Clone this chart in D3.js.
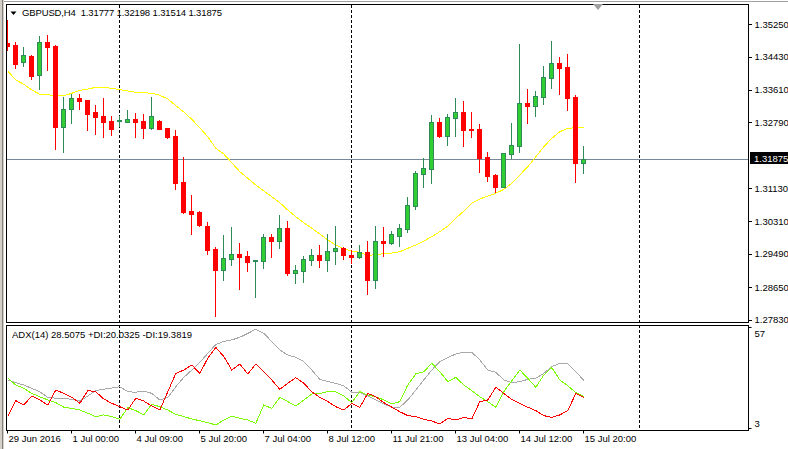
<!DOCTYPE html>
<html><head><meta charset="utf-8">
<script src="https://cdn.jsdelivr.net/npm/d3@7"></script>
<style>
body{margin:0;background:#fff;}
svg{display:block;}
text{font-family:"Liberation Sans",Arial,sans-serif;font-size:9.5px;fill:#000;white-space:pre;}
</style>
</head><body>
<svg id="c" width="788" height="449"></svg>
<script>
// ---------- data ----------
const symbolTitle = "GBPUSD,H4";
const titleOHLC = ["1.31777", "1.32198", "1.31514", "1.31875"];
const adxTitle = "ADX(14) 28.5075 +DI:20.0325 -DI:19.3819";

const openP = [1.3478,1.3473,1.34295,1.34454,1.33969,1.34798,1.34712,1.32678,1.33115,1.33399,
 1.33348,1.33047,1.32947,1.32821,1.32813,1.32803,1.32871,1.32821,1.32653,1.32828,
 1.32645,1.32452,1.31289,1.3056,1.30535,1.30183,1.29606,1.29086,1.29362,1.2948,
 1.2943,1.29297,1.29297,1.29899,1.29814,1.30126,1.2901,1.2906,1.29337,1.29447,
 1.29337,1.29548,1.29623,1.29447,1.29412,1.2953,1.28834,1.29807,1.29764,1.2994,
 1.30116,1.30693,1.31497,1.31623,1.32796,1.32452,1.32904,1.33047,1.3262,1.3262,
 1.31917,1.31464,1.31171,1.32,1.322,1.33273,1.33205,1.33431,1.33909,1.34278,
 1.34177,1.33424,1.31777];
const highP = [1.3535,1.34805,1.34687,1.34479,1.34964,1.34981,1.3473,1.33424,1.33492,1.33492,
 1.3336,1.33223,1.33399,1.32947,1.32947,1.33097,1.33022,1.32997,1.33424,1.32846,
 1.32653,1.32595,1.31924,1.3097,1.3056,1.30276,1.29648,1.29957,1.30158,1.29756,
 1.29555,1.29329,1.29982,1.29982,1.3046,1.30309,1.29196,1.29422,1.29606,1.29706,
 1.29982,1.30183,1.29648,1.2958,1.29706,1.29814,1.30183,1.30158,1.30058,1.30234,
 1.30912,1.31565,1.31884,1.32972,1.32896,1.32997,1.33399,1.33323,1.33047,1.32746,
 1.32042,1.3149,1.32017,1.32771,1.34755,1.33625,1.33575,1.34203,1.34831,1.34429,
 1.34504,1.33474,1.32198];
const lowP = [1.34604,1.3416,1.3421,1.33884,1.33632,1.3411,1.32125,1.3205,1.32778,1.3313,
 1.32602,1.32502,1.32427,1.32477,1.32695,1.32788,1.32427,1.32401,1.32628,1.3262,
 1.32401,1.3112,1.30517,1.2999,1.30183,1.29488,1.2793,1.28834,1.29211,1.28608,
 1.2906,1.28392,1.29136,1.29412,1.29638,1.2896,1.28759,1.28784,1.29211,1.29161,
 1.2906,1.29236,1.29362,1.29246,1.2938,1.28483,1.28633,1.29437,1.29739,1.29688,
 1.3004,1.30618,1.31171,1.31271,1.32419,1.32218,1.32444,1.322,1.32427,1.31547,
 1.31321,1.31045,1.3116,1.31891,1.3205,1.32771,1.32947,1.33248,1.3365,1.33507,
 1.33097,1.31296,1.31514];
const closeP = [1.34705,1.3426,1.34479,1.33959,1.34798,1.34687,1.32678,1.33122,1.33391,1.33331,
 1.33004,1.32929,1.32803,1.32628,1.32846,1.32871,1.32803,1.32653,1.32947,1.32628,
 1.32427,1.31271,1.30535,1.30492,1.30216,1.29588,1.29086,1.29372,1.2948,1.29412,
 1.29287,1.29322,1.29899,1.29814,1.30126,1.2901,1.29078,1.29347,1.29447,1.29337,
 1.29555,1.29623,1.29462,1.29412,1.29523,1.28834,1.29799,1.29764,1.29982,1.30133,
 1.30711,1.31507,1.3164,1.32796,1.32437,1.32914,1.33047,1.32602,1.32595,1.31899,
 1.31447,1.31171,1.3201,1.3221,1.33273,1.33205,1.33449,1.33926,1.34278,1.3416,
 1.33406,1.31773,1.31875];
const maValues = [1.34077,1.33851,1.33743,1.336,1.33492,1.33482,1.33456,1.33456,1.33517,1.33592,
 1.33625,1.33667,1.33667,1.33642,1.33607,1.33575,1.33542,1.33532,1.33517,1.33467,
 1.33374,1.33205,1.33047,1.32864,1.3265,1.32427,1.32135,1.31992,1.31773,1.31547,
 1.31382,1.31213,1.31063,1.30919,1.30769,1.30585,1.30417,1.30266,1.30126,1.29982,
 1.29832,1.29706,1.29613,1.29555,1.29523,1.29447,1.29462,1.29488,1.29505,1.29538,
 1.29623,1.29706,1.29807,1.29915,1.3004,1.30183,1.30377,1.3056,1.30754,1.30862,
 1.30937,1.31005,1.31105,1.31256,1.31464,1.31673,1.31924,1.32175,1.32386,1.32552,
 1.32638,1.32653,1.32663];
const adxValues = [28.7,27.2,26.0,24.2,22.4,19.4,18.9,18.9,18.3,17.4,
 20.1,23.0,23.7,24.4,25.1,22.4,22.1,22.8,21.5,18.0,
 19.4,25.1,30.1,34.0,38.1,42.9,47.6,49.3,50.1,51.5,
 53.6,55.8,53.6,49.2,44.7,42.0,40.8,38.5,34.0,29.0,
 27.8,26.9,25.5,22.1,21.9,20.1,18.0,15.8,14.1,14.1,
 18.0,23.3,28.7,34.0,38.5,40.6,42.6,43.5,43.5,39.4,
 34.0,32.8,28.7,27.2,27.8,29.0,29.6,32.2,35.8,37.6,
 37.2,33.1,28.5];
const plusDI = [29.6,26.0,24.2,21.5,19.7,18.0,16.6,14.1,13.5,12.6,
 10.9,9.1,10.0,9.1,7.6,13.9,12.3,10.0,15.7,14.4,
 12.6,10.3,9.1,7.8,6.9,5.9,4.6,7.3,9.4,8.2,
 7.3,5.5,15.3,13.5,19.4,17.1,14.8,18.0,21.2,21.5,
 22.4,22.4,20.1,16.6,22.4,20.6,19.7,18.0,15.8,17.1,
 26.0,31.9,33.1,37.6,33.1,27.8,30.1,26.0,23.0,19.7,
 17.1,14.1,22.4,28.3,34.0,29.6,24.8,31.3,35.3,28.7,
 25.6,21.9,20.0];
const minusDI = [9.1,17.6,15.3,20.1,18.0,15.3,23.3,21.5,19.4,16.2,
 23.0,22.4,18.5,16.2,14.4,12.6,18.9,17.4,14.8,12.6,
 22.4,32.2,34.0,36.7,32.2,40.3,46.1,41.2,34.0,37.2,
 31.9,37.2,33.1,28.7,23.7,26.9,29.9,26.9,22.4,19.4,
 17.1,14.4,12.6,16.2,14.1,21.5,19.7,16.6,14.1,11.7,
 9.6,9.1,7.6,6.75,5.1,8.2,7.3,8.7,7.8,17.1,
 18.0,24.8,21.5,18.3,16.2,14.1,12.3,9.6,8.7,10.0,
 12.3,21.5,19.4];

const priceTicks = [1.35250,1.34430,1.33610,1.32790,1.31130,1.30310,1.29490,1.28650,1.27830];
const lastPrice = 1.31875;
const adxTicks = [57, 3];
const timeLabels = ["29 Jun 2016","1 Jul 00:00","4 Jul 09:00","5 Jul 20:00","7 Jul 04:00",
 "8 Jul 12:00","11 Jul 21:00","13 Jul 04:00","14 Jul 12:00","15 Jul 20:00"];
const timeLabelBars = [0,8,16,24,32,40,48,56,64,72];
const separatorBars = [14,43,79];

// ---------- layout ----------
const W = 788, H = 449;
const L = 6.5, R = 748.5;
const mainTop = 4.5, mainBot = 322.5;
const adxTop = 325.5, adxBot = 430.5;

const svg = d3.select("#c");
const x = d3.scaleLinear().domain([0, 92]).range([7.3, 743.3]);
const y = d3.scaleLinear().domain([1.27830, 1.35250]).range([319.7, 24.3]);
const ya = d3.scaleLinear().domain([3, 57]).range([428, 327]);
const px = k => Math.floor(x(k)) + 0.5;

// window chrome
svg.append("rect").attr("x",0).attr("y",0).attr("width",W).attr("height",H).attr("fill","#fff");
svg.append("line").attr("x1",0).attr("x2",W).attr("y1",1.5).attr("y2",1.5).attr("stroke","#a0a0a0");
svg.append("rect").attr("x",0).attr("y",0).attr("width",4).attr("height",H).attr("fill","#d4d0c8");
svg.append("line").attr("x1",2.5).attr("x2",2.5).attr("y1",0).attr("y2",H).attr("stroke","#808080");

svg.append("clipPath").attr("id","cm").append("rect")
  .attr("x",L).attr("y",mainTop).attr("width",R-L).attr("height",mainBot-mainTop);
svg.append("clipPath").attr("id","ca").append("rect")
  .attr("x",L).attr("y",adxTop).attr("width",R-L).attr("height",adxBot-adxTop);

// separators (dashed)
const sep = svg.append("g");
separatorBars.forEach(b => {
  sep.append("line").attr("x1",px(b)).attr("x2",px(b)).attr("y1",mainTop).attr("y2",adxBot)
    .attr("stroke","#000").attr("stroke-dasharray","3,2").attr("shape-rendering","crispEdges");
});

// main panel
const gm = svg.append("g").attr("clip-path","url(#cm)");
const yl = Math.round(y(lastPrice)) + 0.5;
gm.append("line").attr("x1",L).attr("x2",R).attr("y1",yl).attr("y2",yl)
  .attr("stroke","#778899").attr("shape-rendering","crispEdges");

// moving average
gm.append("path").datum(maValues)
  .attr("d", d3.line().x((d,i)=>x(i)+0.5).y(d=>y(d)))
  .attr("fill","none").attr("stroke","#ffff00").attr("stroke-width",1)
  .attr("shape-rendering","crispEdges");

// candles
const cg = gm.append("g").attr("shape-rendering","crispEdges");
openP.forEach((o,i) => {
  const c = closeP[i], up = c >= o;
  const col = up ? "#2e8b57" : "#ff0000";
  const xc = px(i);
  cg.append("line").attr("x1",xc).attr("x2",xc)
    .attr("y1",Math.round(y(highP[i]))).attr("y2",Math.round(y(lowP[i]))+1)
    .attr("stroke",col);
  const yt = Math.round(y(Math.max(o,c))), yb = Math.round(y(Math.min(o,c)));
  if (yb - yt < 2) {
    cg.append("line").attr("x1",xc-2.5).attr("x2",xc+2.5).attr("y1",yt+0.5).attr("y2",yt+0.5)
      .attr("stroke",col);
    if (yb - yt >= 1) cg.append("line").attr("x1",xc-2.5).attr("x2",xc+2.5).attr("y1",yb+0.5).attr("y2",yb+0.5).attr("stroke",col);
  } else if (up) {
    cg.append("rect").attr("x",xc-2).attr("y",yt+0.5).attr("width",4).attr("height",yb-yt)
      .attr("fill","#32cd32").attr("stroke","#2e8b57");
  } else {
    cg.append("rect").attr("x",xc-2.5).attr("y",yt).attr("width",5).attr("height",yb-yt+1)
      .attr("fill","#ff0000");
  }
});

// ADX panel
const ga = svg.append("g").attr("clip-path","url(#ca)").attr("shape-rendering","crispEdges");
const la = d3.line().x((d,i)=>x(i)+0.5).y(d=>ya(d));
ga.append("path").datum(adxValues).attr("d",la).attr("fill","none").attr("stroke","#a9a9a9");
ga.append("path").datum(plusDI).attr("d",la).attr("fill","none").attr("stroke","#7cfc00");
ga.append("path").datum(minusDI).attr("d",la).attr("fill","none").attr("stroke","#ff0000");

// frames
svg.append("rect").attr("x",L).attr("y",mainTop).attr("width",R-L).attr("height",mainBot-mainTop)
  .attr("fill","none").attr("stroke","#000").attr("shape-rendering","crispEdges");
svg.append("rect").attr("x",L).attr("y",adxTop).attr("width",R-L).attr("height",adxBot-adxTop)
  .attr("fill","none").attr("stroke","#000").attr("shape-rendering","crispEdges");

// price axis
const ay = svg.append("g").attr("transform",`translate(${R},0)`)
  .call(d3.axisRight(y).tickValues(priceTicks).tickSize(3).tickPadding(3).tickFormat(d3.format(".5f")));
ay.select(".domain").remove();
ay.selectAll("line").attr("stroke","#000").attr("shape-rendering","crispEdges");
ay.selectAll("text").attr("font-family",null).attr("font-size",null).style("font-size","9.5px");

// last price label
svg.append("rect").attr("x",750).attr("y",yl-7.5).attr("width",38).attr("height",12).attr("fill","#000");
svg.append("text").attr("x",754).attr("y",yl+2.5).text(lastPrice.toFixed(5)).style("fill","#fff");

// ADX axis
const aa = svg.append("g").attr("transform",`translate(${R},0)`)
  .call(d3.axisRight(ya).tickValues(adxTicks).tickSize(3).tickPadding(3).tickFormat(d3.format("d")));
aa.select(".domain").remove();
aa.selectAll("line").attr("stroke","#000");
aa.selectAll("text").attr("font-family",null).attr("font-size",null).style("font-size","9.5px")
  .attr("dy", d => d === 57 ? "0.95em" : "-0.2em");

// time axis
const ax = svg.append("g").attr("transform",`translate(0,${adxBot})`)
  .call(d3.axisBottom(x).tickValues(timeLabelBars).tickSize(3).tickFormat((d,i)=>timeLabels[i]));
ax.select(".domain").remove();
ax.selectAll(".tick").attr("transform", d => `translate(${px(d)},0)`);
ax.selectAll("line").attr("stroke","#000");
ax.selectAll("text").attr("font-family",null).attr("font-size",null).style("font-size","9.5px")
  .attr("text-anchor","start").attr("x",1).attr("y",5);

// titles
svg.append("path").attr("d","M10.5,11.5 L16.5,11.5 L13.5,15 Z").attr("fill","#000");
svg.append("text").attr("x",22).attr("y",16).attr("textLength",200).attr("lengthAdjust","spacing")
  .text(symbolTitle + "  " + titleOHLC.join(" "));
svg.append("text").attr("x",12).attr("y",338).attr("textLength",180).attr("lengthAdjust","spacing")
  .text(adxTitle);
// chart shift marker
svg.append("path").attr("d","M593,4 L603,4 L598,10 Z").attr("fill","#a0a0a0");
</script>
</body></html>
